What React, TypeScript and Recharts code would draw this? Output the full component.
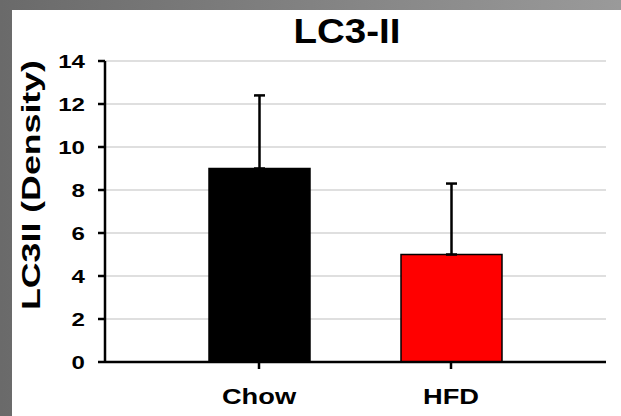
import { BarChart, Bar, XAxis, YAxis, CartesianGrid, ErrorBar, Cell } from 'recharts';

const groups = ['Chow', 'HFD'];
const density = [9, 5];
const densityErr = [3.4, 3.3];
const barColors = ['#000000', '#ff0000'];
const yTicks = [0, 2, 4, 6, 8, 10, 12, 14];

const data = groups.map((name, i) => ({
  name,
  value: density[i],
  err: [0, densityErr[i]],
}));

const font = '"Liberation Sans", Arial, sans-serif';

// the source picture is stretched sideways, so the labels are too
function XTick({ x, y, payload }: any) {
  return (
    <g transform={`translate(${x},${y}) scale(1.24,1)`}>
      <text x={0} y={0} dy={17} textAnchor="middle" fontFamily={font} fontWeight="bold" fontSize={22} fill="#000">
        {payload.value}
      </text>
    </g>
  );
}

function YTick({ x, y, payload }: any) {
  return (
    <g transform={`translate(${x},${y}) scale(1.3,1)`}>
      <text x={0} y={0} dy={6.5} textAnchor="end" fontFamily={font} fontWeight="bold" fontSize={18.5} fill="#000">
        {payload.value}
      </text>
    </g>
  );
}

export default function App() {
  return (
    <div
      style={{
        position: 'fixed',
        top: 0,
        left: 0,
        width: 621,
        height: 416,
        background: 'linear-gradient(to right, #6a6a6a, #9a9a9a)',
      }}
    >
      <div style={{ position: 'absolute', left: 12, top: 10, right: 0, bottom: 0, background: '#fff' }} />
      <div style={{ position: 'absolute', left: 0, top: 0 }}>
        <BarChart
          width={621}
          height={416}
          data={data}
          margin={{ top: 61, right: 15, left: 60, bottom: 0 }}
          barSize={101}
        >
          <g transform="translate(347,43) scale(1.1,1)">
            <text x={0} y={0} textAnchor="middle" fontFamily={font} fontWeight="bold" fontSize={35} fill="#000">
              LC3-II
            </text>
          </g>
          <text
            x={0}
            y={0}
            transform="translate(40,185) rotate(-90)"
            textAnchor="middle"
            textLength={250}
            lengthAdjust="spacingAndGlyphs"
            fontFamily={font}
            fontWeight="bold"
            fontSize={25}
            fill="#000"
          >
            LC3II (Density)
          </text>
          <CartesianGrid vertical={false} stroke="#d4d4d4" strokeWidth={1.5} />
          <XAxis
            dataKey="name"
            padding={{ left: 58, right: 59 }}
            axisLine={{ stroke: '#000', strokeWidth: 2.5 }}
            tickLine={{ stroke: '#000', strokeWidth: 2.5 }}
            tickSize={7}
            tickMargin={18}
            height={54}
            tick={<XTick />}
          />
          <XAxis xAxisId="top" orientation="top" dataKey="name" height={0} tick={false} tickLine={false}
            axisLine={{ stroke: '#000', strokeWidth: 2.5 }} />
          <YAxis
            domain={[0, 14]}
            ticks={yTicks}
            interval={0}
            width={45}
            axisLine={{ stroke: '#000', strokeWidth: 2.5 }}
            tickLine={{ stroke: '#000', strokeWidth: 2.5 }}
            tickSize={7}
            tickMargin={13}
            tick={<YTick />}
          />
          <YAxis yAxisId="right" orientation="right" width={0} domain={[0, 14]} tick={false} tickLine={false}
            axisLine={{ stroke: '#000', strokeWidth: 3.5 }} />
          <Bar dataKey="value" stroke="#000" strokeWidth={1.5} isAnimationActive={false}>
            {data.map((d, i) => (
              <Cell key={d.name} fill={barColors[i]} />
            ))}
            <ErrorBar dataKey="err" direction="y" width={5.5} stroke="#000" strokeWidth={2.5} isAnimationActive={false} />
          </Bar>
        </BarChart>
      </div>
    </div>
  );
}
